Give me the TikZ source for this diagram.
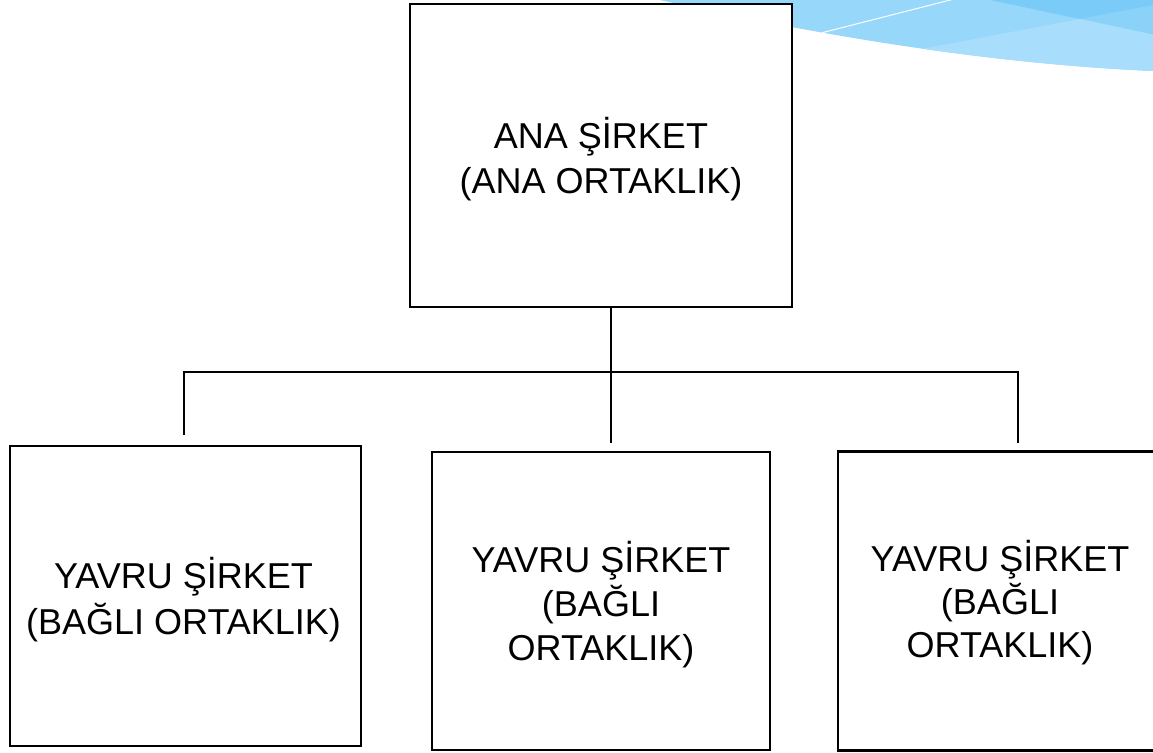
\documentclass[tikz,border=0pt]{standalone}
\usepackage{fontspec}
\setmainfont{Liberation Sans}
\definecolor{blueMain}{RGB}{151,215,250}
\definecolor{blueDark}{RGB}{122,203,248}
\definecolor{blueMid}{RGB}{139,210,249}
\definecolor{blueLight}{RGB}{168,222,251}
\begin{document}
\begin{tikzpicture}[x=1pt,y=-1pt,
  box/.style={draw=black, line width=2.8pt, fill=white, rectangle, inner sep=0pt},
  txt/.style={inner sep=0pt, align=center},
  conn/.style={draw=black, line width=2.6pt}]
\useasboundingbox (0,0) rectangle (1153,752);
\clip (0,0) rectangle (1153,752);
% decorative swoosh
\begin{scope}
  \clip (660,0) .. controls (760,22) and (950,62) .. (1153,71) -- (1160,71) -- (1160,-5) -- (660,-5) -- cycle;
  \fill[blueMain] (600,-5) rectangle (1160,100);
  \fill[blueDark] (990,0) -- (1080,19) -- (1160,4) -- (1160,-5) -- (966,-5) -- cycle;
  \fill[blueMid] (1080,19) -- (1160,4) -- (1160,36) -- cycle;
  \fill[blueLight] (800,72) -- (1080,19) -- (1160,36) -- (1160,100) -- (800,100) -- cycle;
  \draw[white, line width=1pt] (821,33) -- (962,-3);
\end{scope}
% boxes
\node[box, minimum width=382pt, minimum height=303pt] (ana) at (601,155.5) {};
\node[box, minimum width=351pt, minimum height=300pt] (y1) at (185.5,596) {};
\node[box, minimum width=338pt, minimum height=298pt] (y2) at (601,601) {};
\node[box, minimum width=324pt, minimum height=299.4pt] (y3) at (1000,601) {};
% texts
\node[txt, font=\fontsize{36}{45}\selectfont] (anat) at ([yshift=-4pt]ana.center) {ANA ŞİRKET\\(ANA ORTAKLIK)};
\node[txt, font=\fontsize{36}{46}\selectfont] (y1t) at ([yshift=-3.5pt,xshift=-2pt]y1.center) {YAVRU ŞİRKET\\(BAĞLI ORTAKLIK)};
\node[txt, font=\fontsize{36}{44}\selectfont] (y2t) at ([yshift=-3.5pt]y2.center) {YAVRU ŞİRKET\\(BAĞLI\\ORTAKLIK)};
\node[txt, font=\fontsize{36}{43}\selectfont] (y3t) at ([yshift=-2pt]y3.center) {YAVRU ŞİRKET\\(BAĞLI\\ORTAKLIK)};
% connectors
\coordinate (j) at (611,372);
\coordinate (jl) at (184,372);
\coordinate (jr) at (1018,372);
\coordinate (el) at (184,435);
\coordinate (em) at (611,443);
\coordinate (er) at (1018,443);
\draw[conn] (ana.south -| j) -- (em);
\draw[conn] (el) -- (jl) -- (jr) -- (er);
\end{tikzpicture}
\end{document}
